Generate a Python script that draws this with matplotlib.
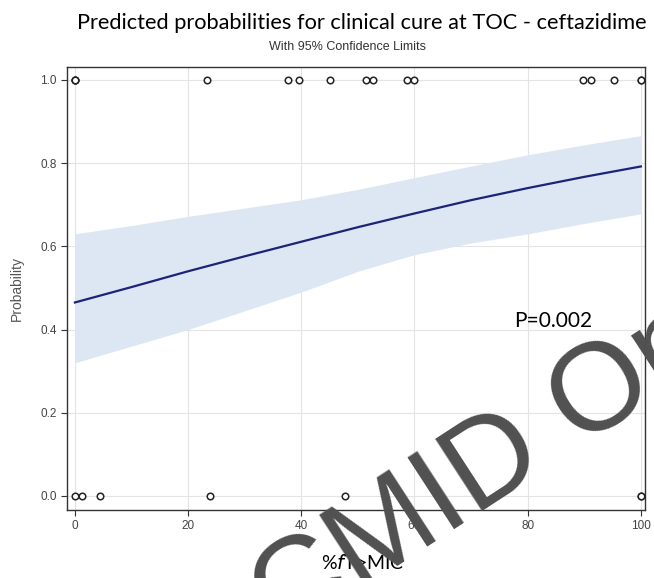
import matplotlib
matplotlib.use("Agg")
import matplotlib.pyplot as plt

# fitted curve with 95% confidence limits
x_fit = [0, 10, 20, 30, 40, 50, 60, 70, 80, 90, 100]
p_fit = [0.465, 0.502, 0.540, 0.576, 0.611, 0.646, 0.679, 0.711, 0.740, 0.767, 0.792]
p_upper = [0.630, 0.650, 0.672, 0.692, 0.712, 0.737, 0.765, 0.793, 0.820, 0.844, 0.866]
p_lower = [0.320, 0.360, 0.400, 0.445, 0.490, 0.540, 0.580, 0.608, 0.630, 0.655, 0.678]

# observed outcomes (cured = 1, not cured = 0)
x_cured = [0, 0, 0, 23.3, 37.6, 39.6, 45.0, 51.4, 52.7, 58.7, 60.0, 89.8, 91.1, 95.2, 100, 100]
x_failed = [0, 1.2, 4.4, 23.9, 47.7, 100, 100]

x_ticks = [0, 20, 40, 60, 80, 100]
y_ticks = [0.0, 0.2, 0.4, 0.6, 0.8, 1.0]

fig = plt.figure(figsize=(6.54, 5.78), dpi=100)
ax = fig.add_axes([0.1024, 0.1176, 0.8836, 0.7664])

ax.fill_between(x_fit, p_lower, p_upper, color="#dde6f3", lw=0, zorder=1)
ax.plot(x_fit, p_fit, color="#1c2477", lw=1.6, zorder=3)

ax.scatter(x_cured, [1.0] * len(x_cured), s=22, facecolors="white",
           edgecolors="#222222", linewidths=1.1, zorder=4)
ax.scatter(x_failed, [0.0] * len(x_failed), s=22, facecolors="white",
           edgecolors="#222222", linewidths=1.1, zorder=4)

ax.set_xlim(-1.4, 100.7)
ax.set_ylim(-0.034, 1.031)
ax.set_xticks(x_ticks)
ax.set_yticks(y_ticks)
ax.set_xticklabels([str(v) for v in x_ticks])
ax.set_yticklabels([f"{v:.1f}" for v in y_ticks])
ax.tick_params(labelsize=8.5, labelcolor="#444444", length=4, width=0.8,
               color="#333333")
for lab in ax.get_xticklabels() + ax.get_yticklabels():
    lab.set_family("Liberation Sans")

ax.grid(True, color="#e4e4e4", lw=0.8, zorder=0)
ax.set_axisbelow(True)
for sp in ax.spines.values():
    sp.set_color("#333333")
    sp.set_linewidth(1.0)

ax.set_ylabel("Probability", fontsize=10, color="#555555",
              family="Liberation Sans", labelpad=12)

fig.text(0.553, 0.961, "Predicted probabilities for clinical cure at TOC - ceftazidime",
         ha="center", va="center", fontsize=15.7, family="Lato")
fig.text(0.532, 0.919, "With 95% Confidence Limits", ha="center", va="center",
         fontsize=9, color="#333333", family="Liberation Sans")
fig.text(0.554, 0.026, r"%$\mathit{f}$T>MIC", ha="center", va="center",
         fontsize=14, family="Lato")
ax.text(84.5, 0.42, "P=0.002", ha="center", va="center", fontsize=15,
        family="Lato")

# watermark across the plot
fig.text(282 / 654, 1 - 641 / 578, "CMID Only", rotation=33,
         rotation_mode="anchor", ha="left", va="baseline", fontsize=90,
         color="#505050", family="Liberation Sans", zorder=10)

fig.savefig("out.png", dpi=100)
